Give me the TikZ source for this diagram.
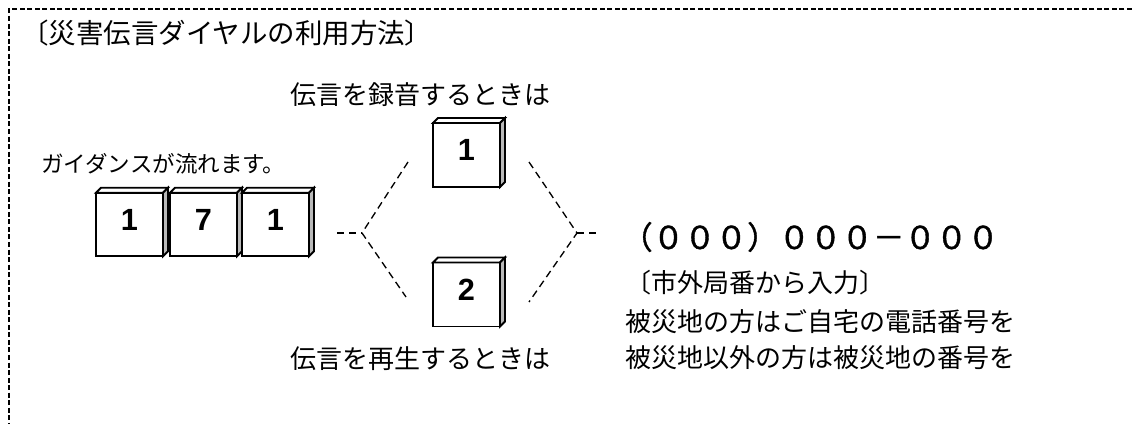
\documentclass[tikz,border=0pt]{standalone}
\usepackage{fontspec}
\setmainfont{Noto Sans CJK JP}
\newfontfamily\keyfont{Liberation Sans}
\newfontfamily\numfont{Noto Sans CJK JP}[FakeBold=1.2]
\usetikzlibrary{calc}
\definecolor{keygray}{RGB}{185,185,185}
\tikzset{
  keyline/.style={line width=1.35pt, line join=miter},
  keyface/.style={draw, keyline, fill=white, minimum width=50.25pt, minimum height=47.6pt,
    inner sep=0pt, outer sep=0pt, font=\keyfont\bfseries\fontsize{23pt}{23pt}\selectfont},
  conn/.style={line width=1pt, dash pattern=on 5.5pt off 3.5pt},
  framedash/.style={line width=1.3pt, dash pattern=on 3.75pt off 1.9pt},
  maintext/.style={inner sep=0pt, anchor=west, font=\fontsize{19.5pt}{24pt}\selectfont},
  titletext/.style={inner sep=0pt, anchor=west, font=\fontsize{20.6pt}{24pt}\selectfont},
  smalltext/.style={inner sep=0pt, anchor=west, font=\fontsize{16.9pt}{20pt}\selectfont},
  bigtext/.style={inner sep=0pt, anchor=west, font=\numfont\fontsize{23.6pt}{28pt}\selectfont},
}
\newcommand\keydepth[1]{%
  \draw[keyline, fill=white] (#1.north west) -- ++(5,-5) -- ($(#1.north east)+(5,-5)$) -- (#1.north east) -- cycle;
  \draw[keyline, fill=keygray] (#1.north east) -- ++(5,-5) -- ($(#1.south east)+(5,-5)$) -- (#1.south east) -- cycle;
}
\newcommand\keydigit[1]{{\vphantom{#1}\smash{\raisebox{3.5pt}{#1}}}}
\begin{document}
\begin{tikzpicture}[x=0.75pt,y=-0.75pt]
\useasboundingbox (0,0) rectangle (1132,424);
% frame
\coordinate (fa) at (1132,9);
\coordinate (fb) at (9,9);
\coordinate (fc) at (9,424);
\draw[framedash] (fa) -- (fb) -- (fc);
% title
\node[titletext] (title) at (21,33) {〔災害伝言ダイヤルの利用方法〕};
% 171 keys
\node[smalltext] (guide) at (41,164) {ガイダンスが流れます。};
\node[keyface] (k1) at (129.5,224.5) {\keydigit{1}};
\node[keyface] (k2) at (203.5,224.5) {\keydigit{7}};
\node[keyface] (k3) at (275.5,224.5) {\keydigit{1}};
\keydepth{k1}
\keydepth{k2}
\keydepth{k3}
% record / play keys
\node[maintext] (rec) at (290,95) {伝言を録音するときは};
\node[keyface, minimum height=48pt] (kr) at (466.5,155) {\keydigit{1}};
\keydepth{kr}
\node[keyface, minimum height=48pt] (kp) at (466.5,294.5) {\keydigit{2}};
\keydepth{kp}
\node[maintext] (play) at (290,359) {伝言を再生するときは};
% connectors
\coordinate (ls) at (337,233);
\coordinate (jl) at (362,233);
\coordinate (lu) at (408,162);
\coordinate (ld) at (406,297);
\coordinate (ru) at (529,162);
\coordinate (jr) at (577,233);
\coordinate (rd) at (529,302);
\coordinate (re) at (600,233);
\draw[conn] (ls) -- (jl);
\draw[conn] (lu) -- (jl) -- (ld);
\draw[conn] (ru) -- (jr) -- (rd);
\draw[conn] (jr) -- (re);
% number and notes
\node[bigtext] (num) at (621,237) {（０００）０００－０００};
\node[maintext] (n1) at (625,283) {〔市外局番から入力〕};
\node[maintext] (n2) at (625,322) {被災地の方はご自宅の電話番号を};
\node[maintext] (n3) at (625,358) {被災地以外の方は被災地の番号を};
\end{tikzpicture}
\end{document}
